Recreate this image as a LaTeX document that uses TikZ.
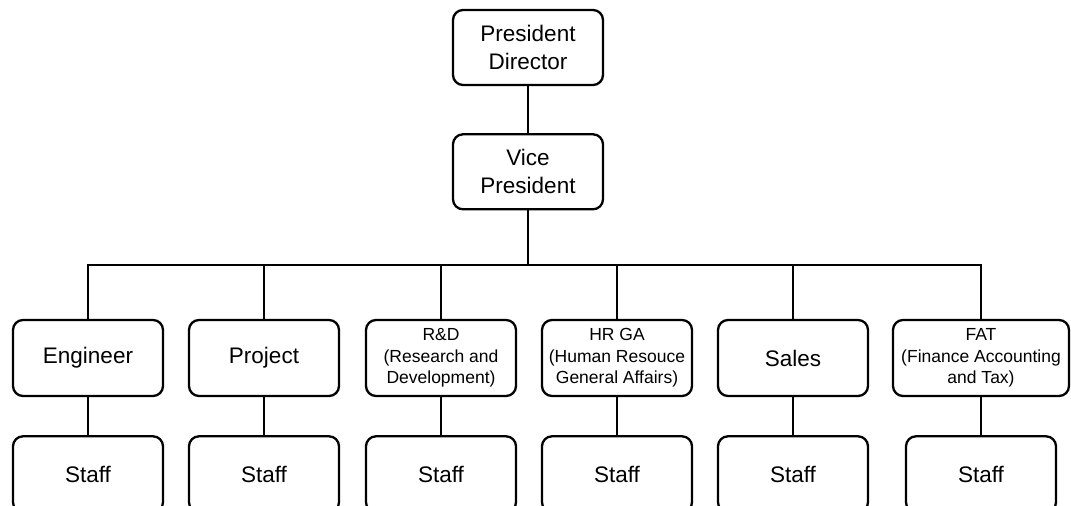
\documentclass[tikz,border=0pt]{standalone}
\usepackage{fontspec}
\setmainfont{Liberation Sans}
\usetikzlibrary{positioning}

\tikzset{
  unit/.style={draw, rounded corners=10pt, minimum width=150pt,
    minimum height=76pt, align=center, inner sep=2pt,
    font=\fontsize{22.5}{28}\selectfont},
  dept/.style={unit, font=\fontsize{17.5}{21.3}\selectfont}
}

\begin{document}
\begin{tikzpicture}[x=1pt, y=1pt, line width=2.3pt]
  \clip (0,0) rectangle (1071,506);

  \node (pres) [unit, minimum height=75pt] at (528,458.5) {President\\Director};
  \node (vice) [unit, minimum height=75pt, below=47pt of pres] {Vice\\President};
  \coordinate (bus) at (528,241);

  \node (eng)   [unit] at (88,148)  {Engineer};
  \node (proj)  [unit] at (264,148) {Project};
  \node (rnd)   [dept] at (441,148) {R\&D\\(Research and\\Development)};
  \node (hrga)  [dept] at (617,148) {HR GA\\(Human Resouce\\General Affairs)};
  \node (sales) [unit] at (793,148) {Sales};
  \node (fat)   [dept, minimum width=176pt] at (981,148)
    {FAT\\(Finance Accounting\\and Tax)};

  \foreach \d in {eng,proj,rnd,hrga,sales,fat}
    \node (\d-staff) [unit, below=38pt of \d] {Staff};

  \draw (pres) -- (vice);
  \draw (vice) -- (bus);
  \foreach \d in {eng,proj,rnd,hrga,sales,fat} {
    \draw (\d) |- (bus);
    \draw (\d) -- (\d-staff);
  }
\end{tikzpicture}
\end{document}
